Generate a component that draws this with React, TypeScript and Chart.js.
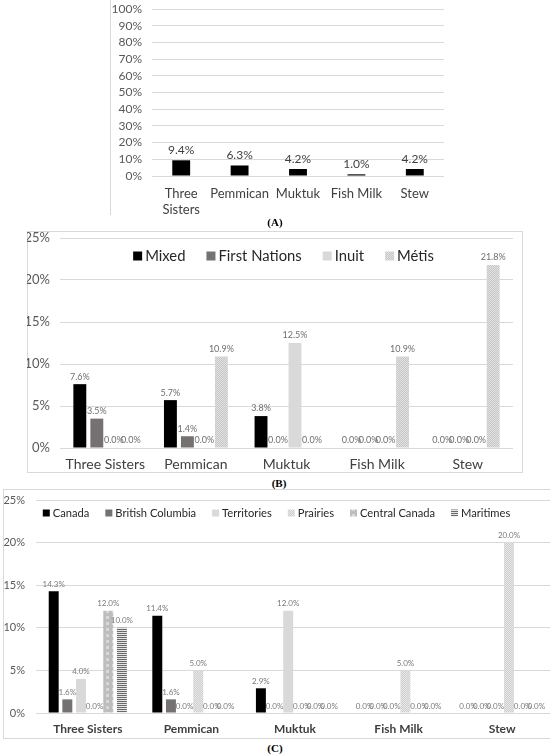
import React, { useEffect, useRef } from 'react';
import { Chart, registerables } from 'chart.js';

Chart.register(...registerables);

const FONT = "Lato, 'Noto Sans', sans-serif";

// ---------- data ----------
const categories = ['Three Sisters', 'Pemmican', 'Muktuk', 'Fish Milk', 'Stew'];

const overallValues = [9.4, 6.3, 4.2, 1.0, 4.2];

const identitySeries = ['Mixed', 'First Nations', 'Inuit', 'Métis'];
const mixedValues = [7.6, 5.7, 3.8, 0.0, 0.0];
const firstNationsValues = [3.5, 1.4, 0.0, 0.0, 0.0];
const inuitValues = [0.0, 0.0, 12.5, 0.0, 0.0];
const metisValues = [0.0, 10.9, 0.0, 10.9, 21.8];

const regionSeries = ['Canada', 'British Columbia', 'Territories', 'Prairies', 'Central Canada', 'Maritimes'];
const canadaValues = [14.3, 11.4, 2.9, 0.0, 0.0];
const bcValues = [1.6, 1.6, 0.0, 0.0, 0.0];
const territoriesValues = [4.0, 0.0, 12.0, 0.0, 0.0];
const prairiesValues = [0.0, 5.0, 0.0, 5.0, 20.0];
const centralValues = [12.0, 0.0, 0.0, 0.0, 0.0];
const maritimesValues = [10.0, 0.0, 0.0, 0.0, 0.0];

const axisA = { max: 100, step: 10 };
const axisB = { max: 25, step: 5 };
const axisC = { max: 25, step: 5 };

// ---------- patterns ----------
function makePattern(w: number, h: number, draw: (g: CanvasRenderingContext2D) => void) {
  const c = document.createElement('canvas');
  c.width = w;
  c.height = h;
  const g = c.getContext('2d') as CanvasRenderingContext2D;
  draw(g);
  return g.createPattern(c, 'repeat') as CanvasPattern;
}

function checker(base: string, light: string) {
  return makePattern(2, 2, (g) => {
    g.fillStyle = base;
    g.fillRect(0, 0, 2, 2);
    g.fillStyle = light;
    g.fillRect(0, 0, 1, 1);
    g.fillRect(1, 1, 1, 1);
  });
}

// ---------- plugins ----------
const valueLabels = {
  id: 'valueLabels',
  afterDatasetsDraw(chart: any, _args: any, opts: any) {
    const ctx = chart.ctx;
    ctx.save();
    ctx.font = `${opts.size}px ${FONT}`;
    ctx.fillStyle = opts.color;
    ctx.textAlign = 'center';
    ctx.textBaseline = 'middle';
    chart.data.datasets.forEach((ds: any, di: number) => {
      const meta = chart.getDatasetMeta(di);
      meta.data.forEach((el: any, i: number) => {
        const v = ds.data[i] as number;
        ctx.fillText(`${v.toFixed(1)}%`, el.x, el.y - opts.offset);
      });
    });
    ctx.restore();
  },
};

const boxLegend = {
  id: 'boxLegend',
  afterDraw(chart: any, _args: any, opts: any) {
    if (!opts || !opts.show) return;
    const ctx = chart.ctx;
    ctx.save();
    const items = chart.data.datasets.map((d: any) => ({ text: d.label, fill: d.backgroundColor }));
    const fixed = items.length * (opts.box + opts.gap) + opts.itemGap * (items.length - 1);
    ctx.font = `${opts.size}px ${FONT}`;
    const textTotal = items.reduce((a: number, it: any) => a + ctx.measureText(it.text).width, 0);
    let size = opts.size;
    if (opts.span) {
      size = Math.max(opts.minSize, Math.min(opts.size, (opts.size * (opts.span - fixed)) / textTotal));
    }
    ctx.font = `${size}px ${FONT}`;
    const widths = items.map((it: any) => opts.box + opts.gap + ctx.measureText(it.text).width);
    const total = widths.reduce((a: number, b: number) => a + b, 0) + opts.itemGap * (items.length - 1);
    let x = opts.centerX - total / 2;
    const y = chart.chartArea.top + opts.offsetY;
    items.forEach((it: any, i: number) => {
      ctx.fillStyle = it.fill;
      ctx.fillRect(x, y - opts.box / 2, opts.box, opts.box);
      ctx.fillStyle = opts.color;
      ctx.textAlign = 'left';
      ctx.textBaseline = 'middle';
      ctx.fillText(it.text, x + opts.box + opts.gap, y);
      x += widths[i] + opts.itemGap;
    });
    ctx.restore();
  },
};

// ---------- config builder ----------
function barConfig(p: any) {
  return {
    type: 'bar',
    data: { labels: categories, datasets: p.datasets },
    plugins: [valueLabels, boxLegend],
    options: {
      animation: false,
      responsive: false,
      maintainAspectRatio: false,
      layout: { padding: p.padding },
      datasets: { bar: { categoryPercentage: p.catPct, barPercentage: p.barPct } },
      plugins: {
        legend: { display: false },
        tooltip: { enabled: false },
        valueLabels: { size: p.labelSize, color: p.labelColor, offset: p.labelOffset },
        boxLegend: p.legend || { show: false },
      },
      scales: {
        x: {
          grid: { display: false, drawTicks: false },
          border: { display: false },
          afterFit: (s: any) => {
            s.height = p.xHeight;
            s.paddingLeft = 0;
            s.paddingRight = 0;
          },
          ticks: {
            color: '#404040',
            maxRotation: 0,
            autoSkip: false,
            padding: p.catPadding,
            font: { family: FONT, size: p.catSize, weight: p.catWeight },
            callback: function (this: any, value: any) {
              const l = this.getLabelForValue(value) as string;
              return p.wrap && l.length > 10 ? l.split(' ') : l;
            },
          },
        },
        y: {
          min: 0,
          max: p.axis.max,
          afterFit: (s: any) => {
            s.width = p.yWidth;
            s.paddingTop = 0;
            s.paddingBottom = 0;
          },
          grid: { color: '#d9d9d9', drawTicks: false },
          border: { display: false },
          ticks: {
            stepSize: p.axis.step,
            autoSkip: false,
            color: '#595959',
            padding: p.tickPadding,
            font: { family: FONT, size: p.tickSize },
            callback: (v: any) => `${v}%`,
          },
        },
      },
    },
  };
}

function ChartCanvas({ left, top, width, height, build }: any) {
  const ref = useRef<HTMLCanvasElement | null>(null);
  useEffect(() => {
    const chart = new Chart(ref.current as HTMLCanvasElement, build());
    return () => chart.destroy();
  }, []);
  return (
    <canvas
      ref={ref}
      width={width}
      height={height}
      style={{ position: 'absolute', left, top, width, height }}
    />
  );
}

const buildA = () =>
  barConfig({
    datasets: [{ label: 'All', data: overallValues, backgroundColor: '#000000' }],
    axis: axisA,
    padding: { left: 0, right: 6, top: 9, bottom: 0 },
    yWidth: 42,
    xHeight: 44,
    catPct: 0.34,
    barPct: 0.9,
    tickSize: 12,
    tickPadding: 10,
    catSize: 13,
    catWeight: 'normal',
    catPadding: 10,
    labelSize: 12,
    labelColor: '#404040',
    labelOffset: 10,
    wrap: true,
  });

const buildB = () => {
  const metis = checker('#c6c6c6', '#e2e2e2');
  const series = [mixedValues, firstNationsValues, inuitValues, metisValues];
  const colors = ['#000000', '#767171', '#d9d9d9', metis];
  return barConfig({
    datasets: identitySeries.map((name, i) => ({ label: name, data: series[i], backgroundColor: colors[i] })),
    axis: axisB,
    padding: { left: 0, right: 11, top: 7, bottom: 0 },
    yWidth: 33,
    xHeight: 26,
    catPct: 0.75,
    barPct: 0.76,
    tickSize: 13,
    tickPadding: 10,
    catSize: 14,
    catWeight: 'normal',
    catPadding: 8,
    labelSize: 9,
    labelColor: '#6e6e6e',
    labelOffset: 7.5,
    legend: { show: true, size: 15, minSize: 12, span: 301, box: 9, gap: 3, itemGap: 21, centerX: 256.5, offsetY: 18, color: '#262626' },
  });
};

const buildC = () => {
  const prairies = checker('#d0d0d0', '#e6e6e6');
  const central = makePattern(6, 6, (g) => {
    g.fillStyle = '#bdbdbd';
    g.fillRect(0, 0, 6, 6);
    g.fillStyle = '#d8d8d8';
    g.fillRect(1, 1, 3, 3);
  });
  const maritimes = makePattern(2, 2, (g) => {
    g.fillStyle = '#6a6a6a';
    g.fillRect(0, 0, 2, 1);
    g.fillStyle = '#e4e4e4';
    g.fillRect(0, 1, 2, 1);
  });
  const series = [canadaValues, bcValues, territoriesValues, prairiesValues, centralValues, maritimesValues];
  const colors = ['#000000', '#767171', '#d9d9d9', prairies, central, maritimes];
  return barConfig({
    datasets: regionSeries.map((name, i) => ({ label: name, data: series[i], backgroundColor: colors[i] })),
    axis: axisC,
    padding: { left: 0, right: 2, top: 11, bottom: 0 },
    yWidth: 33,
    xHeight: 25,
    catPct: 0.79,
    barPct: 0.73,
    tickSize: 11,
    tickPadding: 11,
    catSize: 12,
    catWeight: 'bold',
    catPadding: 9,
    labelSize: 8,
    labelColor: '#7a7a7a',
    labelOffset: 7,
    legend: { show: true, size: 12, minSize: 10, span: 468, box: 7, gap: 3, itemGap: 16, centerX: 273.5, offsetY: 13, color: '#262626' },
  });
};

const captionStyle: React.CSSProperties = {
  position: 'absolute',
  left: 0,
  width: 550,
  textAlign: 'center',
  fontFamily: "'Liberation Serif', 'Times New Roman', serif",
  fontWeight: 'bold',
  fontSize: 11,
  lineHeight: '12px',
  color: '#000',
};

export default function App() {
  return (
    <div
      style={{
        position: 'fixed',
        left: 0,
        top: 0,
        width: 550,
        height: 755,
        overflow: 'hidden',
        background: '#ffffff',
      }}
    >
      {/* Panel A */}
      <div style={{ position: 'absolute', left: 110, top: 0, width: 1, height: 215, background: '#d9d9d9' }} />
      <ChartCanvas left={110} top={0} width={340} height={220} build={buildA} />
      <div style={{ ...captionStyle, top: 216 }}>(A)</div>

      {/* Panel B */}
      <div
        style={{
          position: 'absolute',
          left: 27,
          top: 231,
          width: 496,
          height: 242,
          border: '1px solid #d9d9d9',
          boxSizing: 'border-box',
        }}
      />
      <ChartCanvas left={27} top={231} width={497} height={243} build={buildB} />
      <div style={{ ...captionStyle, top: 477, left: 4 }}>(B)</div>

      {/* Panel C */}
      <div
        style={{
          position: 'absolute',
          left: 3,
          top: 489,
          width: 570,
          height: 250,
          border: '1px solid #d9d9d9',
          boxSizing: 'border-box',
        }}
      />
      <ChartCanvas left={3} top={489} width={553} height={249} build={buildC} />
      <div style={{ ...captionStyle, top: 742 }}>(C)</div>
    </div>
  );
}
